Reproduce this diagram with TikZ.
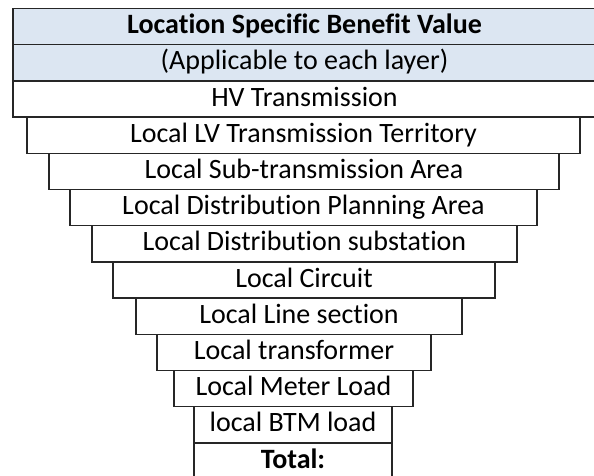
\documentclass[tikz,border=0pt]{standalone}
\usepackage{fontspec}
\setmainfont{Carlito}[Ligatures=NoCommon]
\usetikzlibrary{positioning}
\definecolor{headblue}{RGB}{220,230,242}

\begin{document}
\begin{tikzpicture}[every node/.style={draw=black!85,line width=1.3pt,outer sep=0pt,inner ysep=0pt,minimum height=36.2pt,text height=21pt,text depth=7pt,font=\fontsize{28pt}{34pt}\selectfont},head/.style={fill=headblue}]
  \useasboundingbox (0,0) rectangle (594pt,-475pt);
  \node (title) [head,anchor=north west,minimum width=583pt] at (13pt,-8.5pt) {\bfseries Location Specific Benefit Value};
  \node (apply) [head,below right=0pt and 0pt of title.south west,minimum width=583pt] {(Applicable to each layer)};
  \node (hv) [below right=0pt and 0pt of apply.south west,minimum width=583pt] {HV Transmission};
  \node (lv) [below right=0pt and 14pt of hv.south west,minimum width=553pt] {Local LV Transmission Territory};
  \node (subtr) [below right=0pt and 22pt of lv.south west,minimum width=510pt] {Local Sub-transmission Area};
  \node (plan) [below right=0pt and 21pt of subtr.south west,minimum width=467pt] {Local Distribution Planning Area};
  \node (subst) [below right=0pt and 22pt of plan.south west,minimum width=425pt] {Local Distribution substation};
  \node (circ) [below right=0pt and 21pt of subst.south west,minimum width=382pt] {Local Circuit};
  \node (line) [below right=0pt and 23pt of circ.south west,minimum width=326pt] {Local Line section};
  \node (trafo) [below right=0pt and 21pt of line.south west,minimum width=274pt] {Local transformer};
  \node (meter) [below right=0pt and 17pt of trafo.south west,minimum width=239pt] {Local Meter Load};
  \node (btm) [below right=0pt and 20pt of meter.south west,minimum width=198pt] {local BTM load};
  \node (total) [below right=0pt and 0pt of btm.south west,minimum width=198pt] {\bfseries Total:};
\end{tikzpicture}
\end{document}
